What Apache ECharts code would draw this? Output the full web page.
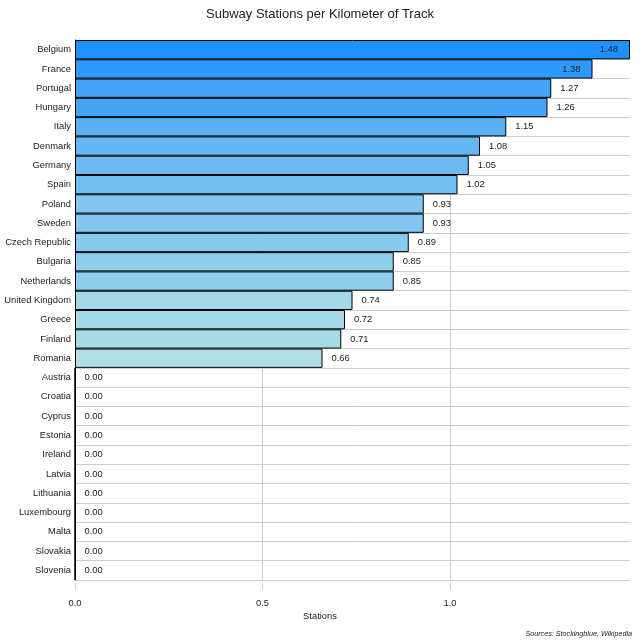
<!DOCTYPE html>
<html>
<head>
<meta charset="utf-8">
<script src="https://cdn.jsdelivr.net/npm/echarts@6/dist/echarts.min.js"></script>
<style>
html,body{margin:0;padding:0;background:#fff;}
#main{width:640px;height:640px;}
</style>
</head>
<body>
<div id="main"></div>
<script>
var countries = ['Belgium','France','Portugal','Hungary','Italy','Denmark','Germany','Spain','Poland','Sweden',
	'Czech Republic','Bulgaria','Netherlands','United Kingdom','Greece','Finland','Romania','Austria','Croatia',
	'Cyprus','Estonia','Ireland','Latvia','Lithuania','Luxembourg','Malta','Slovakia','Slovenia'];
var stations = [1.48,1.38,1.27,1.26,1.15,1.08,1.05,1.02,0.93,0.93,0.89,0.85,0.85,0.74,0.72,0.71,0.66,
	0,0,0,0,0,0,0,0,0,0,0];
var xTicks = [0, 0.5, 1.0];

var fontName = 'Liberation Sans, Arial, sans-serif';
var smallFont = 9.4;

// labels inside the bar for the longest ones
function buildSeriesData(values){
	var out = [];
	for(var i = 0, len = values.length; i < len; i++){
		var item = {value: values[i]};
		if(values[i] > 1.3){
			item.label = {position: 'insideRight', distance: 12};
		}
		out.push(item);
	}
	return out;
}

var chart = echarts.init(document.getElementById('main'));
var maxVal = Math.max.apply(null, stations);

var option = {
	animation: false,
	title: {
		text: 'Subway Stations per Kilometer of Track',
		left: 'center',
		top: 3,
		textStyle: {fontFamily: fontName, fontSize: 13, fontWeight: 'normal', color: '#222'}
	},
	grid: {left: 75, right: 10, top: 40, bottom: 60, containLabel: false, outerBoundsMode: 'none'},
	visualMap: {
		show: false,
		min: 0.66,
		max: maxVal,
		dimension: 0,
		inRange: {color: ['#B0E0E6', '#1E90FF']},
		outOfRange: {color: '#B0E0E6'}
	},
	xAxis: {
		type: 'value',
		min: 0,
		max: maxVal,
		interval: 0.5,
		offset: 3,
		axisLine: {show: false},
		axisTick: {show: true, length: 7, lineStyle: {color: '#ccc'}, customValues: xTicks},
		axisLabel: {
			fontFamily: fontName, fontSize: smallFont, color: '#222', margin: 16,
			customValues: xTicks,
			formatter: function(v){ return v.toFixed(1); }
		},
		splitLine: {show: true, lineStyle: {color: '#ccc'}}
	},
	yAxis: {
		type: 'category',
		data: countries,
		inverse: true,
		axisLine: {show: true, lineStyle: {color: '#000'}},
		axisTick: {show: false},
		axisLabel: {fontFamily: fontName, fontSize: smallFont, color: '#222', margin: 4},
		splitLine: {show: true, lineStyle: {color: '#ccc'}}
	},
	series: [{
		type: 'bar',
		barCategoryGap: '0%',
		data: buildSeriesData(stations),
		itemStyle: {borderColor: '#000', borderWidth: 1},
		label: {
			show: true,
			position: 'right',
			distance: 9,
			fontFamily: fontName,
			fontSize: smallFont,
			color: '#222',
			formatter: function(p){ return p.value.toFixed(2); }
		}
	}],
	graphic: [{
		type: 'text',
		left: 'center',
		top: 612,
		style: {
			text: 'Stations',
			fontFamily: fontName,
			fontSize: smallFont,
			fill: '#222'
		}
	}, {
		type: 'text',
		right: 8,
		bottom: 3,
		style: {
			text: 'Sources: Stockingblue, Wikipedia',
			fontFamily: fontName,
			fontSize: 7.2,
			fontStyle: 'italic',
			fill: '#222'
		}
	}]
};

chart.setOption(option);
</script>
</body>
</html>
